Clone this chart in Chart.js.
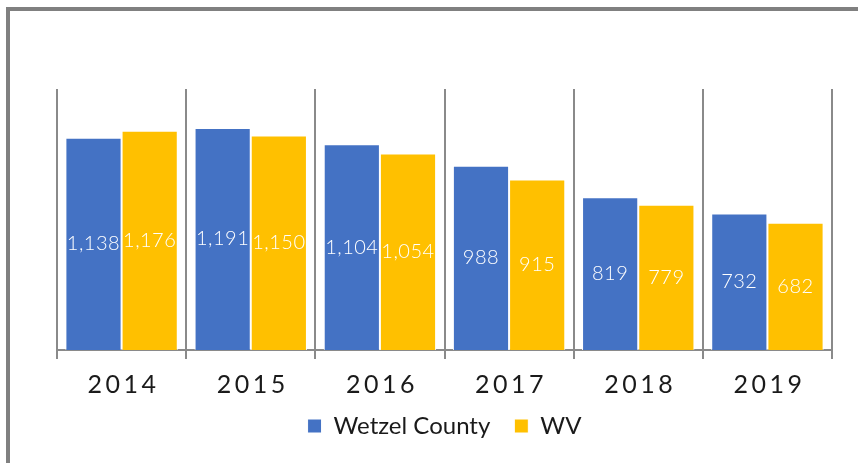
<!DOCTYPE html>
<html>
<head>
<meta charset="utf-8">
<script src="https://cdn.jsdelivr.net/npm/chart.js@4.4.1/dist/chart.umd.min.js"></script>
<style>
  html, body { margin: 0; padding: 0; background: #fff; }
  #wrap { position: relative; width: 858px; height: 463px; }
</style>
</head>
<body>
<div id="wrap"><canvas id="c" width="858" height="463"></canvas></div>
<script>
// Wetzel County vs WV — grouped bars, 2014-2019
const years = ["2014", "2015", "2016", "2017", "2018", "2019"];
const wetzel = [1138, 1191, 1104, 988, 819, 732];
const wv = [1176, 1150, 1054, 915, 779, 682];

const BLUE = "#4472C4";
const GOLD = "#FFC000";
const GRID = "#8a8a8a";
const FONT = "Lato, 'Open Sans', sans-serif";

// gray frame (top + left edges visible in the crop)
const framePlugin = {
  id: "frame",
  beforeDraw(chart) {
    const c = chart.ctx;
    c.save();
    c.strokeStyle = "#808080";
    c.lineWidth = 4;
    c.beginPath();
    c.moveTo(8, 463);
    c.lineTo(8, 9);
    c.lineTo(858, 9);
    c.stroke();
    c.restore();
  },
};

// values centred inside each bar, white
const valueLabels = {
  id: "valueLabels",
  afterDatasetsDraw(chart) {
    const c = chart.ctx;
    c.save();
    c.fillStyle = "#ffffff";
    c.font = `300 20px ${FONT}`;
    c.letterSpacing = "0.5px";
    c.textAlign = "center";
    c.textBaseline = "middle";
    chart.data.datasets.forEach((ds, i) => {
      chart.getDatasetMeta(i).data.forEach((bar, j) => {
        const y = (bar.y + bar.base) / 2;
        c.fillText(ds.data[j].toLocaleString("en-US"), bar.x, y);
      });
    });
    c.restore();
  },
};

// spaced-out year labels under the axis
const yearLabels = {
  id: "yearLabels",
  afterDraw(chart) {
    const c = chart.ctx;
    const x = chart.scales.x;
    c.save();
    c.fillStyle = "#1a1a1a";
    c.font = `25px ${FONT}`;
    c.letterSpacing = "3.5px";
    c.textAlign = "center";
    c.textBaseline = "middle";
    x.ticks.forEach((t, i) => {
      c.fillText(years[i], x.getPixelForTick(i) + 2, chart.chartArea.bottom + 35);
    });
    c.restore();
  },
};

new Chart(document.getElementById("c"), {
  type: "bar",
  data: {
    labels: years,
    datasets: [
      { label: "Wetzel County", data: wetzel, backgroundColor: BLUE, borderColor: "#ffffff", borderWidth: 1 },
      { label: "WV", data: wv, backgroundColor: GOLD, borderColor: "#ffffff", borderWidth: 1 },
    ],
  },
  options: {
    responsive: false,
    animation: false,
    layout: { padding: { top: 89, left: 57, right: 26, bottom: 15 } },
    datasets: { bar: { categoryPercentage: 0.87, barPercentage: 1 } },
    plugins: {
      tooltip: { enabled: false },
      legend: {
        position: "bottom",
        labels: {
          boxWidth: 14,
          boxHeight: 14,
          padding: 24,
          color: "#1a1a1a",
          font: { family: FONT, size: 24 },
        },
      },
    },
    scales: {
      x: {
        offset: true,
        grid: { offset: true, color: GRID, lineWidth: 2, tickLength: 9, drawOnChartArea: true },
        border: { color: GRID, width: 2 },
        ticks: { display: false },
        afterFit(scale) { scale.height = 40; },
      },
      y: {
        display: false,
        min: 0,
        max: 1400,
      },
    },
  },
  plugins: [framePlugin, valueLabels, yearLabels],
});
</script>
</body>
</html>
